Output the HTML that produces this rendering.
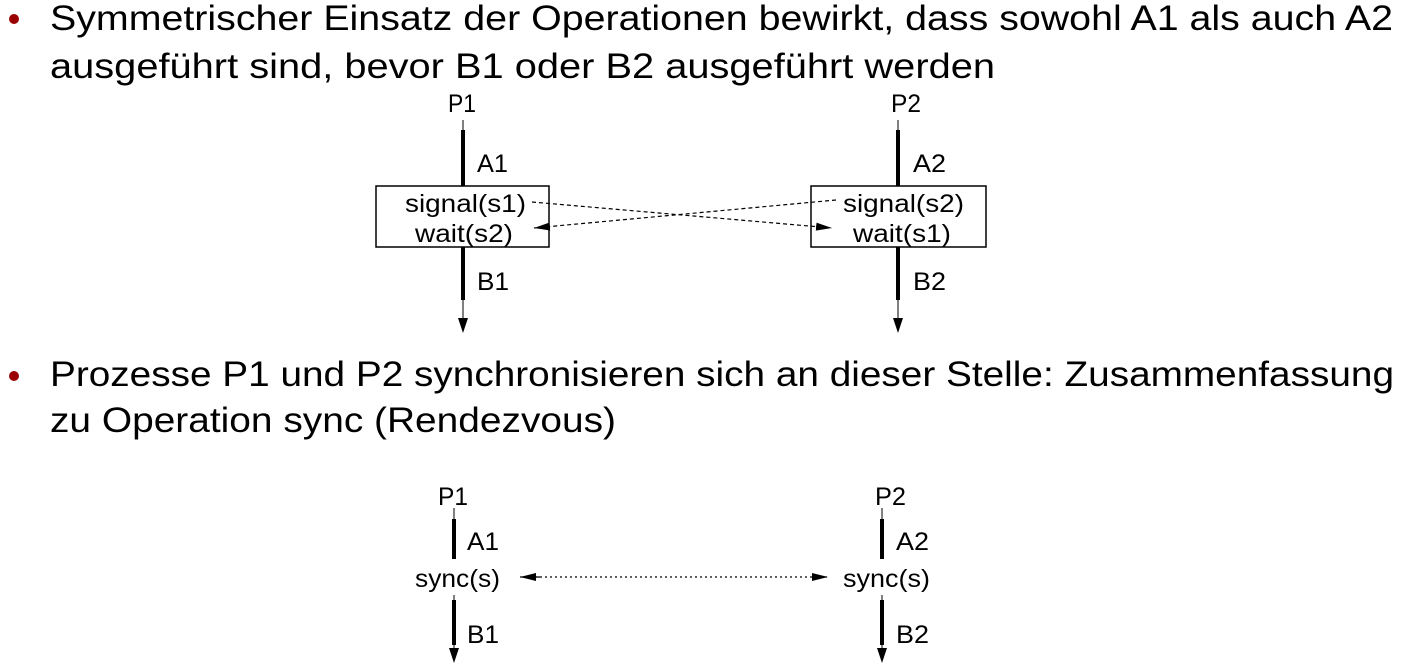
<!DOCTYPE html>
<html><head><meta charset="utf-8"><style>
html,body{margin:0;padding:0;background:#fff;}
svg{display:block;}
text{font-family:"Liberation Sans",sans-serif;fill:#000;}
</style></head><body>
<svg width="1402" height="669" viewBox="0 0 1402 669" xmlns="http://www.w3.org/2000/svg">
<defs>
<marker id="ah" markerWidth="10" markerHeight="16" refX="5" refY="15" orient="0" markerUnits="userSpaceOnUse"><path d="M1,0 L5,15 L9,0 Z" fill="#000"/></marker>
<marker id="ad" markerWidth="16" markerHeight="10" refX="16" refY="5" orient="auto" markerUnits="userSpaceOnUse"><path d="M0,1 L16,5 L0,9 Z" fill="#000"/></marker>
</defs>
<circle cx="14" cy="19" r="5" fill="#9b0000"/>
<text x="50" y="30" font-size="35" textLength="1343" lengthAdjust="spacingAndGlyphs">Symmetrischer Einsatz der Operationen bewirkt, dass sowohl A1 als auch A2</text>
<text x="50" y="78" font-size="35" textLength="945" lengthAdjust="spacingAndGlyphs">ausgeführt sind, bevor B1 oder B2 ausgeführt werden</text>
<circle cx="14" cy="376" r="5" fill="#9b0000"/>
<text x="50" y="386" font-size="35" textLength="1344" lengthAdjust="spacingAndGlyphs">Prozesse P1 und P2 synchronisieren sich an dieser Stelle: Zusammenfassung</text>
<text x="50" y="432" font-size="35" textLength="566" lengthAdjust="spacingAndGlyphs">zu Operation sync (Rendezvous)</text>

<!-- top diagram -->
<g stroke="#000" fill="none">
<line x1="463" y1="120" x2="463" y2="318" stroke-width="1"/>
<line x1="463" y1="130" x2="463" y2="186" stroke-width="4"/>
<line x1="463" y1="247" x2="463" y2="300" stroke-width="4"/>
<line x1="898" y1="120" x2="898" y2="318" stroke-width="1"/>
<line x1="898" y1="130" x2="898" y2="186" stroke-width="4"/>
<line x1="898" y1="247" x2="898" y2="300" stroke-width="4"/>
<rect x="376" y="186" width="173" height="61" fill="#fff" stroke-width="1.5"/>
<rect x="811" y="186" width="175" height="61" fill="#fff" stroke-width="1.5"/>
</g>
<path d="M458,318 L463,333 L468,318 Z"/>
<path d="M893,318 L898,333 L903,318 Z"/>
<g stroke="#000" fill="none">
<line x1="532" y1="202" x2="832" y2="228" stroke-width="1.2" stroke-dasharray="4,3" marker-end="url(#ad)"/>
<line x1="836" y1="200" x2="534" y2="228" stroke-width="1.2" stroke-dasharray="4,3" marker-end="url(#ad)"/>
</g>
<g font-size="25">
<text x="448" y="112" textLength="28" lengthAdjust="spacingAndGlyphs">P1</text>
<text x="891" y="112" textLength="30" lengthAdjust="spacingAndGlyphs">P2</text>
<text x="477" y="172" textLength="31" lengthAdjust="spacingAndGlyphs">A1</text>
<text x="913" y="172" textLength="33" lengthAdjust="spacingAndGlyphs">A2</text>
<text x="477" y="290" textLength="32" lengthAdjust="spacingAndGlyphs">B1</text>
<text x="913" y="290" textLength="33" lengthAdjust="spacingAndGlyphs">B2</text>
<text x="405" y="212" textLength="121" lengthAdjust="spacingAndGlyphs">signal(s1)</text>
<text x="415" y="242" textLength="98" lengthAdjust="spacingAndGlyphs">wait(s2)</text>
<text x="843" y="212" textLength="121" lengthAdjust="spacingAndGlyphs">signal(s2)</text>
<text x="853" y="242" textLength="98" lengthAdjust="spacingAndGlyphs">wait(s1)</text>
</g>

<!-- bottom diagram -->
<g font-size="25">
<text x="438" y="505" textLength="30" lengthAdjust="spacingAndGlyphs">P1</text>
<text x="875" y="505" textLength="31" lengthAdjust="spacingAndGlyphs">P2</text>
<text x="467" y="550" textLength="32" lengthAdjust="spacingAndGlyphs">A1</text>
<text x="896" y="550" textLength="33" lengthAdjust="spacingAndGlyphs">A2</text>
<text x="467" y="643" textLength="32" lengthAdjust="spacingAndGlyphs">B1</text>
<text x="896" y="643" textLength="33" lengthAdjust="spacingAndGlyphs">B2</text>
<text x="415" y="587" textLength="85" lengthAdjust="spacingAndGlyphs">sync(s)</text>
<text x="843" y="587" textLength="87" lengthAdjust="spacingAndGlyphs">sync(s)</text>
</g>
<g stroke="#000" fill="none">
<line x1="454" y1="508" x2="454" y2="520" stroke-width="1"/>
<line x1="454" y1="519" x2="454" y2="559" stroke-width="4"/>
<line x1="454" y1="595" x2="454" y2="650" stroke-width="1"/>
<line x1="454" y1="600" x2="454" y2="645" stroke-width="4"/>
<line x1="882" y1="508" x2="882" y2="520" stroke-width="1"/>
<line x1="882" y1="519" x2="882" y2="559" stroke-width="4"/>
<line x1="882" y1="595" x2="882" y2="650" stroke-width="1"/>
<line x1="882" y1="600" x2="882" y2="645" stroke-width="4"/>
<line x1="535" y1="577" x2="828" y2="577" stroke-width="1.2" stroke-dasharray="2,3" marker-end="url(#ad)"/>
<line x1="540" y1="577" x2="520" y2="577" stroke-width="1.2" marker-end="url(#ad)"/>
</g>
<path d="M449,648 L454,663 L459,648 Z"/>
<path d="M877,648 L882,663 L887,648 Z"/>
</svg>
</body></html>
